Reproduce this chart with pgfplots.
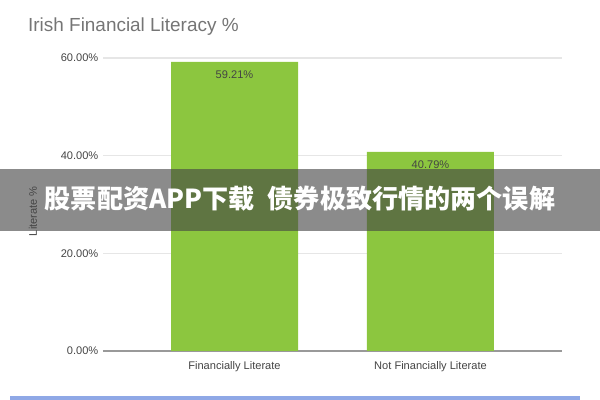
\documentclass[border=0pt]{standalone}
\usepackage{pgfplots}
\pgfplotsset{compat=1.18}
\usepackage{fontspec}
\setmainfont{Liberation Sans}
\newfontfamily\cjk{Noto Sans CJK SC}
\definecolor{bargreen}{HTML}{8CC63F}
\definecolor{titlegray}{HTML}{757575}
\definecolor{labgray}{HTML}{444444}
\definecolor{gridgray}{HTML}{E6E6E6}
\definecolor{basegray}{HTML}{999999}
\definecolor{bandgray}{HTML}{444444}
\definecolor{lineblue}{HTML}{8FA8E6}

% 1 px of the 600x400 reference = 0.75pt
\begin{document}
\begin{tikzpicture}
    \useasboundingbox (0,0) rectangle (450pt,300pt);
    \node[anchor=west, text=titlegray, font=\fontsize{14.2pt}{16pt}\selectfont] at (17.6pt,280pt) {Irish Financial Literacy \%};
    \begin{axis}[
        at={(77.25pt,36.75pt)}, anchor=south west,
        scale only axis,
        width=344.25pt, height=219.75pt,
        ymin=0, ymax=60,
        xmin=-0.671, xmax=1.671,
        ytick={0,20,40,60},
        yticklabels={0.00\%,20.00\%,40.00\%,60.00\%},
        xtick={0,1},
        xticklabels={Financially Literate,Not Financially Literate},
        ticklabel style={font=\fontsize{8.3pt}{9pt}\selectfont, text=labgray},
        xticklabel style={yshift=-4pt},
        major tick length=0pt,
        ymajorgrids=true,
        grid style={gridgray, line width=0.8pt},
        axis line style={draw=none},
        extra y ticks={0},
        extra y tick labels={},
        extra y tick style={grid style={basegray, line width=0.9pt}},
        ylabel={Literate \%},
        ylabel style={font=\fontsize{8.3pt}{9pt}\selectfont, text=labgray, xshift=-5pt},
        ylabel shift=11pt,
        clip=false,
        nodes near coords,
        point meta=explicit symbolic,
        every node near coord/.append style={anchor=north, yshift=-3pt,
            font=\fontsize{8.3pt}{9pt}\selectfont, text=labgray},
    ]
        \addplot[ybar, bar width=95.25pt, fill=bargreen, draw=none]
            coordinates {(0,59.21) [59.21\%] (1,40.79) [40.79\%]};
    \end{axis}
    \fill[bandgray, opacity=0.62] (0,126.75pt) rectangle (450pt,173.25pt);
    \node[text=white, font=\cjk\bfseries\fontsize{19.6pt}{23pt}\selectfont] at (225pt,150.75pt) {股票配资APP下载\enspace 债券极致行情的两个误解};
    \fill[lineblue] (7.5pt,0) rectangle (435pt,3pt);
\end{tikzpicture}
\end{document}
